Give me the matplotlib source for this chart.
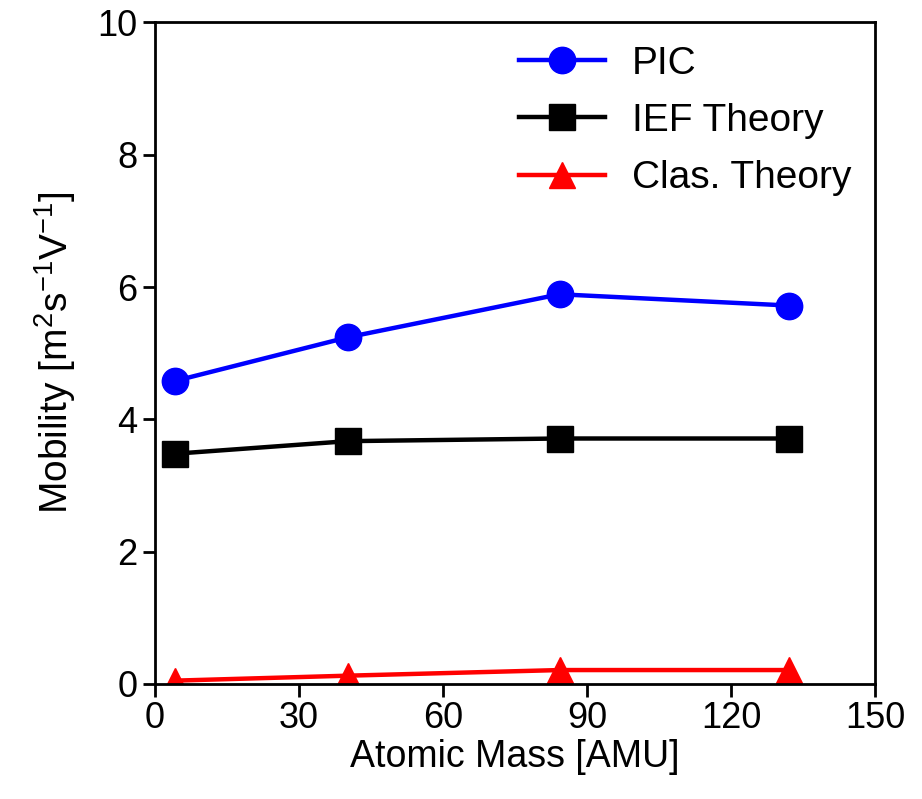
import numpy as np
from matplotlib import pyplot as plt

plt.rcParams['font.family'] = ['Liberation Sans', 'DejaVu Sans']
plt.rcParams['mathtext.fontset'] = 'custom'
plt.rcParams['mathtext.rm'] = 'Liberation Sans'
plt.rcParams['mathtext.it'] = 'Liberation Sans'

# atomic mass of each gas (He, Ar, Kr, Xe)
mass = [4.2, 40.2, 84.3, 132.0]

# mobilities for each gas
mob_pic = [4.58, 5.24, 5.89, 5.72]
mob_ief = [3.48, 3.67, 3.71, 3.71]
mob_clas = [0.05, 0.125, 0.21, 0.21]

fig = plt.figure(figsize=(9.22, 7.99), dpi=100)
ax = fig.add_axes([0.168, 0.144, 0.781, 0.828])

ax.plot(mass, mob_pic, '-o', color='blue', lw=3.2, ms=19, label='PIC')
ax.plot(mass, mob_ief, '-s', color='black', lw=3.2, ms=19, label='IEF Theory')
ax.plot(mass, mob_clas, '-^', color='red', lw=3.2, ms=19, label='Clas. Theory')

ax.set_xlim(0, 150)
ax.set_ylim(0, 10)
ax.set_xticks(np.arange(0, 151, 30))
ax.set_yticks(np.arange(0, 11, 2))
ax.tick_params(labelsize=26, length=9, width=2)
for s in ax.spines.values():
    s.set_linewidth(2)

ax.set_xlabel('Atomic Mass [AMU]', fontsize=27, labelpad=2)
ax.set_ylabel('Mobility [m$^2$s$^{-1}$V$^{-1}$]', fontsize=28, labelpad=14)
ax.legend(frameon=False, fontsize=28, handlelength=2.2, handletextpad=0.7,
          loc='upper right', borderaxespad=0.2, labelspacing=0.55)

fig.savefig('out.png', dpi=100)
